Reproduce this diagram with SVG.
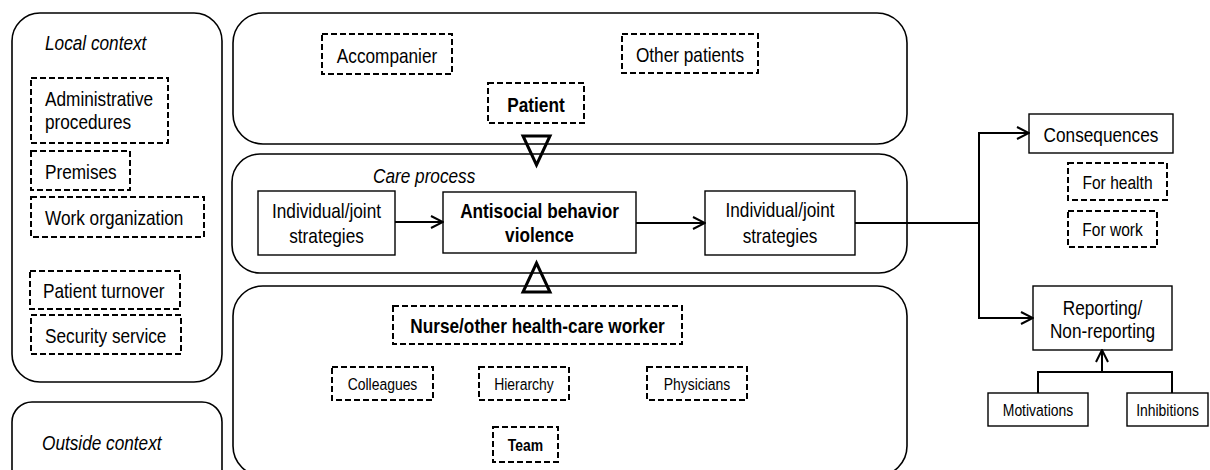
<svg xmlns="http://www.w3.org/2000/svg" width="1210" height="470" viewBox="0 0 1210 470">
  <style>
    .t { font-family: "Liberation Sans", Arial, sans-serif; font-size: 21px; fill: #000; }
    .c { text-anchor: middle; }
    .b { font-weight: bold; }
    .i { font-style: italic; }
    .s { font-size: 17px; }
    .m { font-size: 19px; }
    .big { fill: #fff; stroke: #000; stroke-width: 1.6; }
    .box { fill: #fff; stroke: #000; stroke-width: 1.4; }
    .dash { fill: #fff; stroke: #000; stroke-width: 2; stroke-dasharray: 6 3; }
    .conn { fill: none; stroke: #000; stroke-width: 2; }
    .tri { fill: none; stroke: #000; stroke-width: 3; stroke-linejoin: miter; }
  </style>
  <defs>
    <marker id="arr" viewBox="0 0 14 14" refX="13" refY="7" markerWidth="14" markerHeight="14" markerUnits="userSpaceOnUse" orient="auto">
      <path d="M1,1 L13,7 L1,13" fill="none" stroke="#000" stroke-width="2"/>
    </marker>
  </defs>

  <g id="local-context">
    <rect class="big" x="12" y="13" width="210" height="369" rx="28" ry="28"/>
    <text class="t i" transform="translate(45,50) scale(0.82,1)">Local context</text>
    <g id="admin">
      <rect class="dash" x="31" y="78" width="137" height="65"/>
      <text class="t" transform="translate(45,106) scale(0.82,1)">Administrative</text>
      <text class="t" transform="translate(45,129) scale(0.82,1)">procedures</text>
    </g>
    <g id="premises">
      <rect class="dash" x="31" y="151" width="99" height="39"/>
      <text class="t" transform="translate(45,179) scale(0.82,1)">Premises</text>
    </g>
    <g id="work-org">
      <rect class="dash" x="31" y="197" width="173" height="40"/>
      <text class="t" transform="translate(45,225) scale(0.82,1)">Work organization</text>
    </g>
    <g id="turnover">
      <rect class="dash" x="30" y="271" width="150" height="38"/>
      <text class="t" transform="translate(43,298) scale(0.82,1)">Patient turnover</text>
    </g>
    <g id="security">
      <rect class="dash" x="31" y="315" width="150" height="39"/>
      <text class="t" transform="translate(45,343) scale(0.82,1)">Security service</text>
    </g>
  </g>

  <g id="outside-context">
    <rect class="big" x="12" y="402" width="210" height="90" rx="20" ry="20"/>
    <text class="t i" transform="translate(42,450) scale(0.82,1)">Outside context</text>
  </g>

  <g id="patient-group">
    <rect class="big" x="233" y="13" width="674" height="131" rx="30" ry="30"/>
    <g id="accompanier">
      <rect class="dash" x="322" y="34" width="130" height="40"/>
      <text class="t c" transform="translate(387,63) scale(0.82,1)">Accompanier</text>
    </g>
    <g id="other-patients">
      <rect class="dash" x="622" y="34" width="136" height="39"/>
      <text class="t c" transform="translate(690,62) scale(0.82,1)">Other patients</text>
    </g>
    <g id="patient">
      <rect class="dash" x="488" y="83" width="96" height="40"/>
      <text class="t c b" transform="translate(536,112) scale(0.82,1)">Patient</text>
    </g>
  </g>

  <g id="care-process">
    <rect class="big" x="232" y="154" width="675" height="119" rx="28" ry="28"/>
    <text class="t i" transform="translate(373,183) scale(0.82,1)">Care process</text>
    <g id="strategies-1">
      <rect class="box" x="258" y="191" width="137" height="64"/>
      <text class="t c" transform="translate(326.5,218) scale(0.82,1)">Individual/joint</text>
      <text class="t c" transform="translate(326.5,243) scale(0.82,1)">strategies</text>
    </g>
    <g id="antisocial">
      <rect class="box" x="443" y="192" width="193" height="61"/>
      <text class="t c b" transform="translate(539.5,218) scale(0.82,1)">Antisocial behavior</text>
      <text class="t c b" transform="translate(539.5,242) scale(0.82,1)">violence</text>
    </g>
    <g id="strategies-2">
      <rect class="box" x="705" y="191" width="150" height="64"/>
      <text class="t c" transform="translate(780,217) scale(0.82,1)">Individual/joint</text>
      <text class="t c" transform="translate(780,243) scale(0.82,1)">strategies</text>
    </g>
  </g>

  <g id="worker-group">
    <rect class="big" x="233" y="286" width="674" height="190" rx="30" ry="30"/>
    <g id="nurse">
      <rect class="dash" x="393" y="306" width="289" height="38"/>
      <text class="t c b" transform="translate(537.5,333) scale(0.82,1)">Nurse/other health-care worker</text>
    </g>
    <g id="colleagues">
      <rect class="dash" x="332" y="367" width="101" height="33"/>
      <text class="t c s" transform="translate(382.5,390) scale(0.82,1)">Colleagues</text>
    </g>
    <g id="hierarchy">
      <rect class="dash" x="479" y="367" width="90" height="33"/>
      <text class="t c s" transform="translate(524,390) scale(0.82,1)">Hierarchy</text>
    </g>
    <g id="physicians">
      <rect class="dash" x="647" y="367" width="100" height="33"/>
      <text class="t c s" transform="translate(697,390) scale(0.82,1)">Physicians</text>
    </g>
    <g id="team">
      <rect class="dash" x="493" y="427" width="65" height="35"/>
      <text class="t c s b" transform="translate(525.5,451) scale(0.82,1)">Team</text>
    </g>
  </g>

  <g id="consequences">
    <rect class="box" x="1029" y="114" width="144" height="39"/>
    <text class="t c" transform="translate(1101,142) scale(0.82,1)">Consequences</text>
  </g>
  <g id="for-health">
    <rect class="dash" x="1068" y="163" width="99" height="37"/>
    <text class="t c m" transform="translate(1117.5,189) scale(0.82,1)">For health</text>
  </g>
  <g id="for-work">
    <rect class="dash" x="1068" y="211" width="89" height="36"/>
    <text class="t c m" transform="translate(1112.5,236) scale(0.82,1)">For work</text>
  </g>
  <g id="reporting">
    <rect class="box" x="1033" y="286" width="139" height="64"/>
    <text class="t c" transform="translate(1102.5,315) scale(0.82,1)">Reporting/</text>
    <text class="t c" transform="translate(1102.5,338) scale(0.82,1)">Non-reporting</text>
  </g>
  <g id="motivations">
    <rect class="box" x="988" y="393" width="100" height="33"/>
    <text class="t c s" transform="translate(1038,416) scale(0.82,1)">Motivations</text>
  </g>
  <g id="inhibitions">
    <rect class="box" x="1127" y="393" width="81" height="33"/>
    <text class="t c s" transform="translate(1167.5,416) scale(0.82,1)">Inhibitions</text>
  </g>

  <g id="connectors">
    <polygon class="tri" points="523,136 550,136 536.5,165"/>
    <polygon class="tri" points="523,292 550,292 536.5,263"/>
    <path class="conn" d="M395,222 H443" marker-end="url(#arr)"/>
    <path class="conn" d="M636,223 H705" marker-end="url(#arr)"/>
    <path class="conn" d="M855,223 H979 V133 H1029" marker-end="url(#arr)"/>
    <path class="conn" d="M979,222 V318 H1033" marker-end="url(#arr)"/>
    <path class="conn" d="M1038,393 V372 H1172 V393"/>
    <path class="conn" d="M1102,372 V350" marker-end="url(#arr)"/>
  </g>
</svg>
